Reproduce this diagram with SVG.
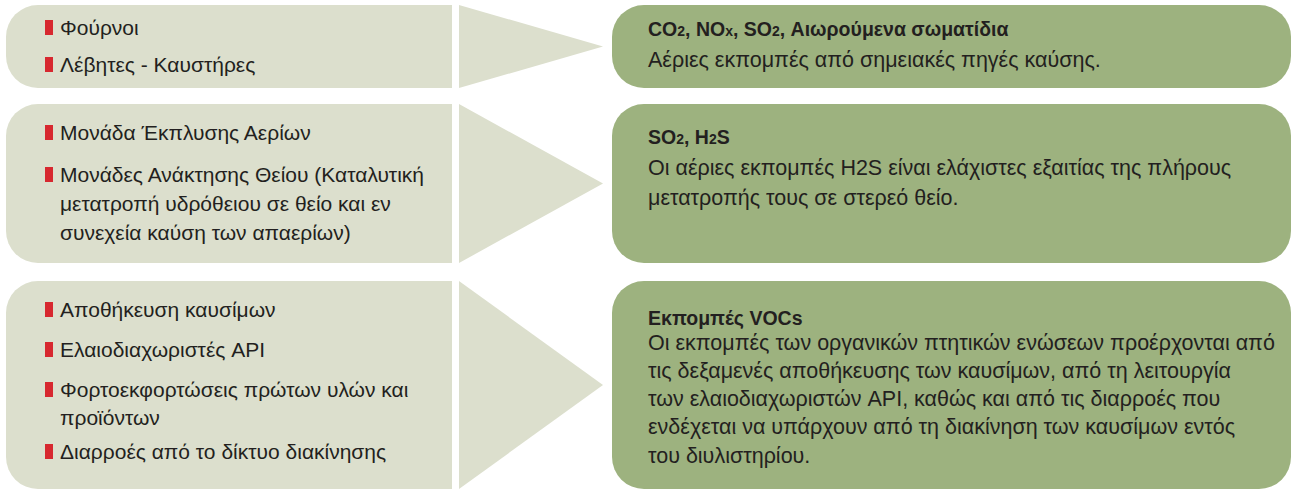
<svg xmlns="http://www.w3.org/2000/svg" width="1292" height="490" viewBox="0 0 1292 490">
<style>
.src{fill:#dcdfcd}
.dst{fill:#9db27f}
.arr{fill:#dcdfcd}
.b{fill:#d7282f}
text{font-family:"Liberation Sans",Arial,sans-serif;font-size:21px;fill:#231f20}
.r{font-size:21.5px}
.t{font-weight:bold;font-size:19.5px}
.sub{font-size:14px}
</style>
<rect width="1292" height="490" fill="#ffffff"/>
<g id="connectors">
<polygon class="arr" points="459,5 603,46.5 459,88"/>
<polygon class="arr" points="459,104 603,183.5 459,263"/>
<polygon class="arr" points="459,281 603,385 459,489"/>
</g>
<g id="src1">
<path class="src" d="M38 5H452V88H38A32 32 0 0 1 6 56V37A32 32 0 0 1 38 5Z"/>
<rect class="b" x="45" y="20" width="8" height="15"/>
<text x="60" y="35">Φούρνοι</text>
<rect class="b" x="45" y="57" width="8" height="15"/>
<text x="60" y="72">Λέβητες - Καυστήρες</text>
</g>
<g id="src2">
<path class="src" d="M38 104H452V263H38A32 32 0 0 1 6 231V136A32 32 0 0 1 38 104Z"/>
<rect class="b" x="45" y="125" width="8" height="15"/>
<text x="60" y="140">Μονάδα Έκπλυσης Αερίων</text>
<rect class="b" x="45" y="167" width="8" height="15"/>
<text x="60" y="182">Μονάδες Ανάκτησης Θείου (Καταλυτική</text>
<text x="60" y="211">μετατροπή υδρόθειου σε θείο και εν</text>
<text x="60" y="240">συνεχεία καύση των απαερίων)</text>
</g>
<g id="src3">
<path class="src" d="M38 281H452V489H38A32 32 0 0 1 6 457V313A32 32 0 0 1 38 281Z"/>
<rect class="b" x="45" y="302" width="8" height="15"/>
<text x="60" y="317">Αποθήκευση καυσίμων</text>
<rect class="b" x="45" y="342" width="8" height="15"/>
<text x="60" y="357">Ελαιοδιαχωριστές API</text>
<rect class="b" x="45" y="382" width="8" height="15"/>
<text x="60" y="397">Φορτοεκφορτώσεις πρώτων υλών και</text>
<text x="60" y="425">προϊόντων</text>
<rect class="b" x="45" y="444" width="8" height="15"/>
<text x="60" y="459">Διαρροές από το δίκτυο διακίνησης</text>
</g>
<g id="dst1">
<rect class="dst" x="612" y="5" width="679" height="83" rx="32"/>
<text class="t" x="648" y="36">CO<tspan class="sub">2</tspan>, NO<tspan class="sub">x</tspan>, SO<tspan class="sub">2</tspan>, Αιωρούμενα σωματίδια</text>
<text class="r" x="648" y="67">Αέριες εκπομπές από σημειακές πηγές καύσης.</text>
</g>
<g id="dst2">
<rect class="dst" x="612" y="104" width="679" height="159" rx="32"/>
<text class="t" x="648" y="144">SO<tspan class="sub">2</tspan>, H<tspan class="sub">2</tspan>S</text>
<text class="r" x="648" y="175">Οι αέριες εκπομπές H2S είναι ελάχιστες εξαιτίας της πλήρους</text>
<text class="r" x="648" y="205">μετατροπής τους σε στερεό θείο.</text>
</g>
<g id="dst3">
<rect class="dst" x="612" y="281" width="679" height="208" rx="32"/>
<text class="t" x="648" y="325">Εκπομπές VOCs</text>
<text class="r" x="648" y="350">Οι εκπομπές των οργανικών πτητικών ενώσεων προέρχονται από</text>
<text class="r" x="648" y="378">τις δεξαμενές αποθήκευσης των καυσίμων, από τη λειτουργία</text>
<text class="r" x="648" y="406">των ελαιοδιαχωριστών API, καθώς και από τις διαρροές που</text>
<text class="r" x="648" y="434">ενδέχεται να υπάρχουν από τη διακίνηση των καυσίμων εντός</text>
<text class="r" x="648" y="463">του διυλιστηρίου.</text>
</g>
</svg>
